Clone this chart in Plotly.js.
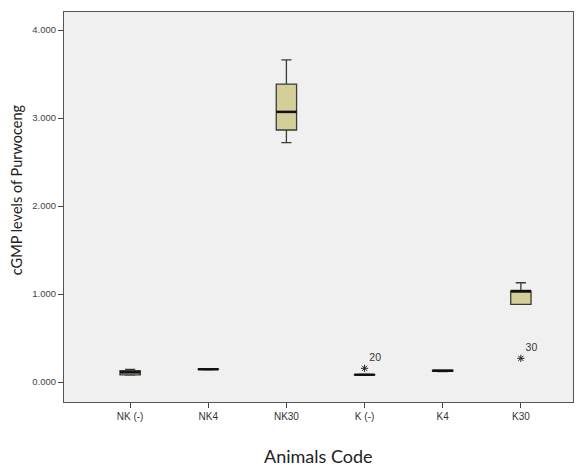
<!DOCTYPE html>
<html><head><meta charset="utf-8">
<script src="https://cdn.plot.ly/plotly-3.0.1.min.js"></script>
<style>body{margin:0;background:#fff}#chart{width:583px;height:468px}</style>
</head><body><div id="chart"></div>
<script>
const categories = ["NK (-)", "NK4", "NK30", "K (-)", "K4", "K30"];
const lowerWhisker = [0.080, 0.142, 2.720, 0.080, 0.118, 0.883];
const q1Values     = [0.082, 0.143, 2.864, 0.081, 0.120, 0.883];
const medianValues = [0.110, 0.145, 3.070, 0.083, 0.128, 1.034];
const q3Values     = [0.128, 0.147, 3.386, 0.085, 0.135, 1.034];
const upperWhisker = [0.144, 0.147, 3.660, 0.086, 0.136, 1.128];
const outlierCategory = [3, 5];
const outlierValues = [0.156, 0.269];
const outlierLabels = ["20", "30"];
const yTicks = [0, 1, 2, 3, 4];
const xTitle = "Animals Code";
const yTitle = "cGMP levels of Purwoceng";

const idx = categories.map((c, i) => i);
const boxW = 0.26;

const traces = [{
  type: "box",
  x: idx,
  q1: q1Values, median: medianValues, q3: q3Values,
  lowerfence: lowerWhisker, upperfence: upperWhisker,
  width: boxW, whiskerwidth: 0.5,
  fillcolor: "#d4cf98",
  line: {color: "#3a3a3a", width: 1.3},
  boxpoints: false, hoverinfo: "skip", showlegend: false
}, {
  type: "scatter", mode: "markers+text",
  x: outlierCategory, y: outlierValues,
  text: outlierLabels, textposition: "top right",
  textfont: {family: "Liberation Sans, Arial", size: 10.5, color: "#333"},
  marker: {symbol: "asterisk-open", size: 6, color: "#222", line: {color: "#222", width: 1}},
  showlegend: false, hoverinfo: "skip", cliponaxis: false
}];

const shapes = idx.map(i => ({
  type: "line", xref: "x", yref: "y",
  x0: i - boxW / 2, x1: i + boxW / 2, y0: medianValues[i], y1: medianValues[i],
  line: {color: "#111", width: 2.5}
}));

const layout = {
  width: 583, height: 468,
  margin: {l: 64, r: 10, t: 12, b: 66},
  paper_bgcolor: "#ffffff", plot_bgcolor: "#f0f0f0",
  shapes: shapes,
  annotations: [{
    text: xTitle, xref: "paper", yref: "paper", x: 0.5, y: -0.138,
    xanchor: "center", yanchor: "middle", showarrow: false,
    font: {family: "Lato, Carlito, sans-serif", size: 18, color: "#222"}
  }, {
    text: yTitle, xref: "paper", yref: "paper", x: -0.092, y: 0.5436,
    xanchor: "center", yanchor: "middle", showarrow: false, textangle: -90,
    font: {family: "Lato, Carlito, sans-serif", size: 14.5, color: "#222"}
  }],
  xaxis: {
    range: [-0.846, 5.667],
    tickvals: idx, ticktext: categories,
    ticks: "outside", ticklen: 5, tickcolor: "#444",
    showgrid: false, zeroline: false,
    showline: true, linecolor: "#555", linewidth: 1, mirror: true,
    tickfont: {family: "Liberation Sans, Arial", size: 10, color: "#333"}
  },
  yaxis: {
    range: [-0.227, 4.205],
    tickvals: yTicks, tickformat: ".3f",
    ticks: "outside", ticklen: 5, tickcolor: "#444",
    showgrid: false, zeroline: false,
    showline: true, linecolor: "#555", linewidth: 1, mirror: true,
    tickfont: {family: "Liberation Sans, Arial", size: 9.5, color: "#444"}
  }
};
Plotly.newPlot("chart", traces, layout, {displayModeBar: false, staticPlot: true});
</script></body></html>
